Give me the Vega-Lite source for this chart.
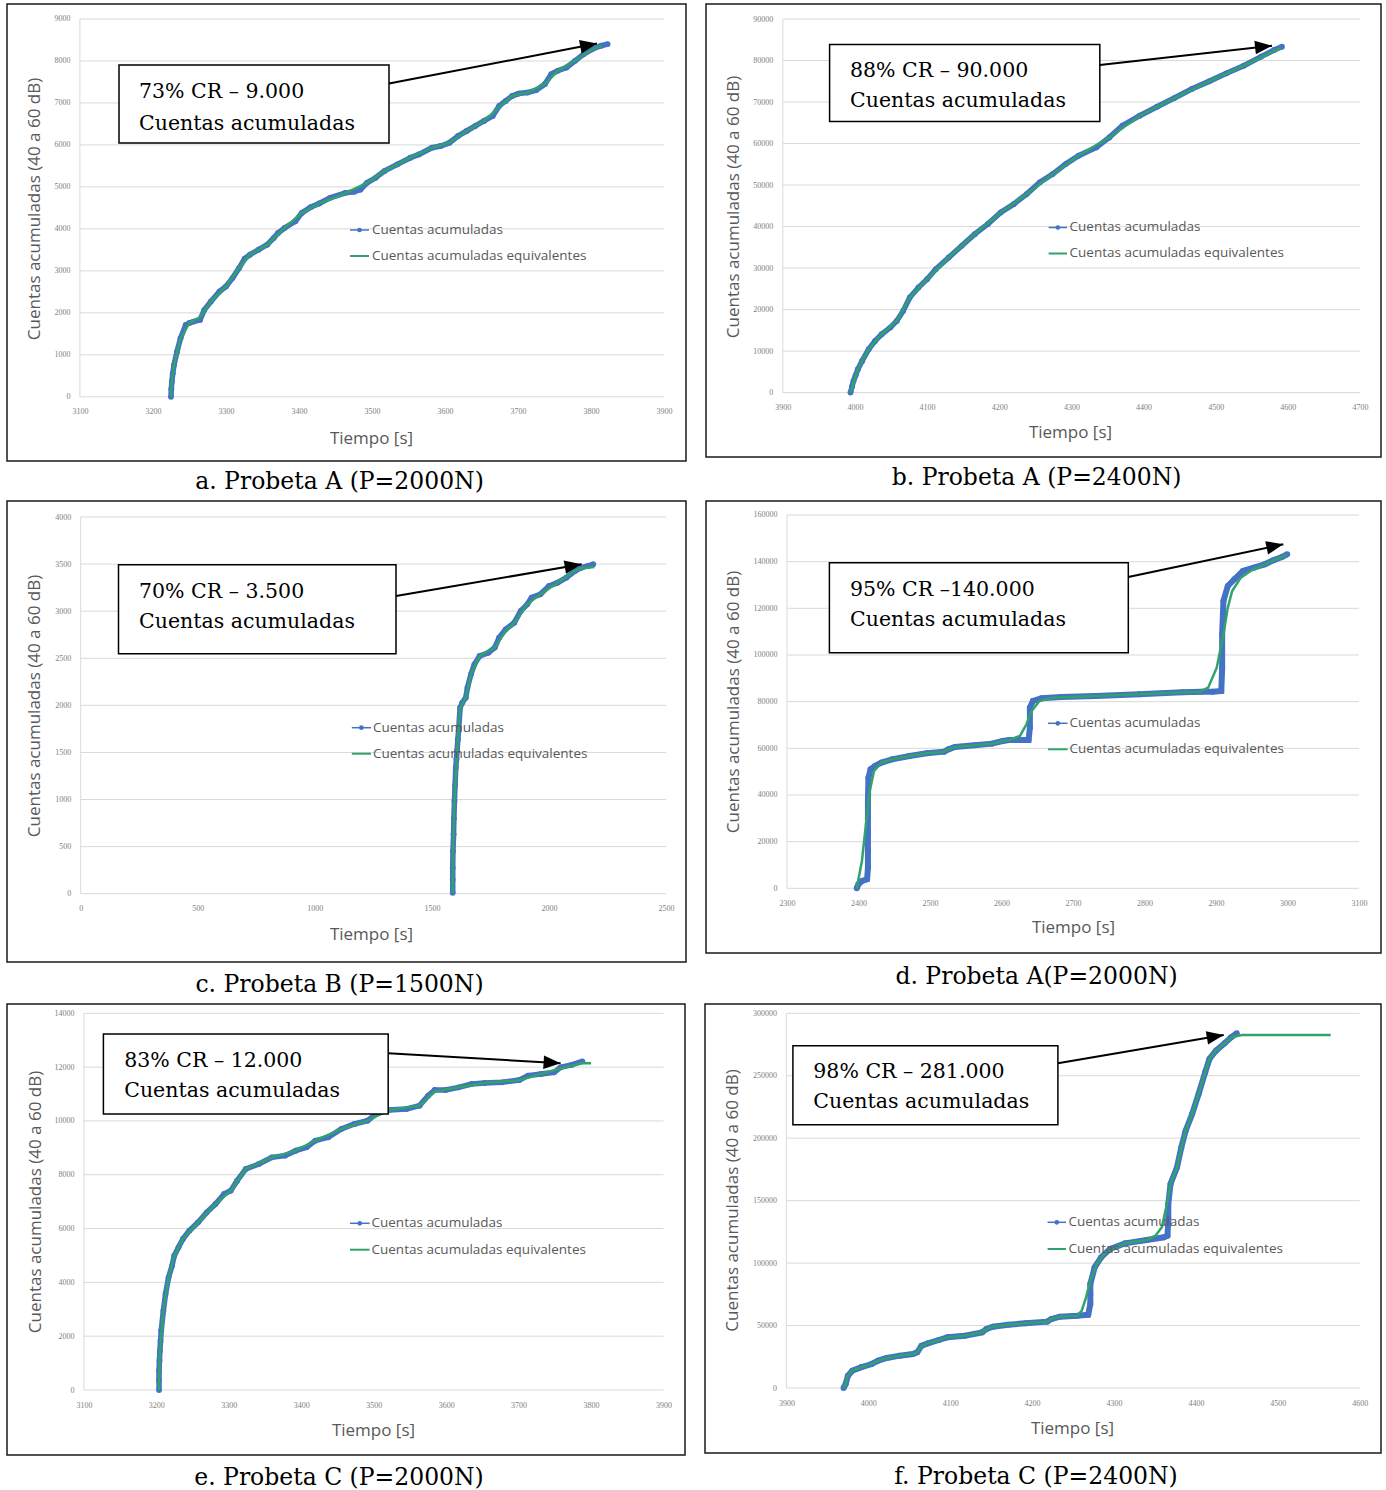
{
"$schema":"https://vega.github.io/schema/vega-lite/v6.json",
"background":"white",
"padding":{"left":6,"top":3,"right":0,"bottom":0},
"config":{
 "view":{"stroke":"#1a1a1a","strokeWidth":1.5},
 "axis":{"labelFont":"Liberation Serif","labelFontSize":8,"labelColor":"#808080","titleFont":"Open Sans","titleFontSize":17,"titleFontWeight":"normal","titleColor":"#595959","domain":false,"ticks":false,"tickSize":0,"grid":false,"labelFlush":false,"labelOverlap":false},
 "title":{"font":"DejaVu Serif","fontSize":23.5,"fontWeight":"normal","color":"black","orient":"bottom","anchor":"middle","offset":9,"dx":-7}
},
"datasets":{
 "a_grid":[{"x1":3100,"x2":3900,"y":0,"y2":0},{"x1":3100,"x2":3900,"y":1000,"y2":1000},{"x1":3100,"x2":3900,"y":2000,"y2":2000},{"x1":3100,"x2":3900,"y":3000,"y2":3000},{"x1":3100,"x2":3900,"y":4000,"y2":4000},{"x1":3100,"x2":3900,"y":5000,"y2":5000},{"x1":3100,"x2":3900,"y":6000,"y2":6000},{"x1":3100,"x2":3900,"y":7000,"y2":7000},{"x1":3100,"x2":3900,"y":8000,"y2":8000},{"x1":3100,"x2":3900,"y":9000,"y2":9000},{"x1":3100,"x2":3100,"y":0,"y2":9000}],
 "a_b":[{"t":3224.7,"c":0},{"t":3225.2,"c":180},{"t":3225.9,"c":358},{"t":3227.2,"c":560},{"t":3228.9,"c":757},{"t":3233,"c":1075},{"t":3237.8,"c":1394},{"t":3244.9,"c":1712},{"t":3250,"c":1760},{"t":3255.6,"c":1792},{"t":3264.5,"c":1832},{"t":3270.4,"c":2071},{"t":3279.4,"c":2270},{"t":3291.2,"c":2509},{"t":3300,"c":2628},{"t":3309,"c":2828},{"t":3318,"c":3066},{"t":3325.7,"c":3290},{"t":3332.8,"c":3385},{"t":3344.7,"c":3505},{"t":3356.6,"c":3624},{"t":3365.5,"c":3783},{"t":3371.4,"c":3903},{"t":3380.3,"c":4022},{"t":3395.2,"c":4182},{"t":3404,"c":4381},{"t":3416,"c":4516},{"t":3427.8,"c":4604},{"t":3442.7,"c":4739},{"t":3463.5,"c":4859},{"t":3475.3,"c":4882},{"t":3484.3,"c":4938},{"t":3493.2,"c":5098},{"t":3505,"c":5217},{"t":3516.9,"c":5376},{"t":3534.7,"c":5536},{"t":3552.6,"c":5695},{"t":3564.4,"c":5775},{"t":3582.2,"c":5934},{"t":3594.1,"c":5974},{"t":3606,"c":6053},{"t":3617.9,"c":6213},{"t":3629.7,"c":6332},{"t":3641.6,"c":6452},{"t":3653.5,"c":6571},{"t":3665.4,"c":6690},{"t":3674.3,"c":6930},{"t":3683.2,"c":7049},{"t":3692.1,"c":7168},{"t":3701,"c":7224},{"t":3712.9,"c":7248},{"t":3724.8,"c":7304},{"t":3736.7,"c":7447},{"t":3745.6,"c":7686},{"t":3754.5,"c":7766},{"t":3766.4,"c":7845},{"t":3778.2,"c":8004},{"t":3790.1,"c":8164},{"t":3802,"c":8284},{"t":3813.9,"c":8363},{"t":3822.8,"c":8403}],
 "a_g":[{"t":3224.7,"c":0},{"t":3226,"c":400},{"t":3229,"c":760},{"t":3237.8,"c":1394},{"t":3250,"c":1760},{"t":3264.5,"c":1900},{"t":3279.4,"c":2270},{"t":3300,"c":2628},{"t":3318,"c":3066},{"t":3332.8,"c":3385},{"t":3356.6,"c":3624},{"t":3380.3,"c":4022},{"t":3404,"c":4381},{"t":3427.8,"c":4604},{"t":3463.5,"c":4850},{"t":3493.2,"c":5098},{"t":3516.9,"c":5376},{"t":3552.6,"c":5695},{"t":3582.2,"c":5934},{"t":3606,"c":6053},{"t":3629.7,"c":6332},{"t":3653.5,"c":6571},{"t":3674.3,"c":6900},{"t":3692.1,"c":7168},{"t":3712.9,"c":7248},{"t":3736.7,"c":7447},{"t":3754.5,"c":7766},{"t":3778.2,"c":8004},{"t":3802,"c":8284},{"t":3815,"c":8360}],
 "a_ann":[{"bx1":3153.55,"bx2":3523.35,"by1":7904.2,"by2":6046,"tx":3180.94,"ty1":7118,"ty2":6367.6,"l1":"73% CR – 9.000","l2":"Cuentas acumuladas","ax1":3523.35,"ay1":7461.1,"ax2":3808.23,"ay2":8416.3,"lx1":3469.93,"lx2":3495.95,"ld":3482.94,"ltx":3500.06,"ly1":3973.5,"ly2":3354.1,"lt1":"Cuentas acumuladas","lt2":"Cuentas acumuladas equivalentes"}],

 "b_grid":[{"x1":3900,"x2":4700,"y":0,"y2":0},{"x1":3900,"x2":4700,"y":10000,"y2":10000},{"x1":3900,"x2":4700,"y":20000,"y2":20000},{"x1":3900,"x2":4700,"y":30000,"y2":30000},{"x1":3900,"x2":4700,"y":40000,"y2":40000},{"x1":3900,"x2":4700,"y":50000,"y2":50000},{"x1":3900,"x2":4700,"y":60000,"y2":60000},{"x1":3900,"x2":4700,"y":70000,"y2":70000},{"x1":3900,"x2":4700,"y":80000,"y2":80000},{"x1":3900,"x2":4700,"y":90000,"y2":90000},{"x1":3900,"x2":3900,"y":0,"y2":90000}],
 "b_b":[{"t":3993.8,"c":0},{"t":3996,"c":1500},{"t":3998,"c":2813},{"t":4001,"c":4200},{"t":4004,"c":5625},{"t":4010,"c":7634},{"t":4019,"c":10447},{"t":4028,"c":12456},{"t":4037,"c":14063},{"t":4049,"c":15670},{"t":4058,"c":17277},{"t":4066.8,"c":19688},{"t":4076,"c":22902},{"t":4088,"c":25313},{"t":4100,"c":27322},{"t":4112,"c":29733},{"t":4130,"c":32546},{"t":4148,"c":35358},{"t":4166,"c":38171},{"t":4184,"c":40582},{"t":4202,"c":43394},{"t":4220,"c":45403},{"t":4238,"c":47814},{"t":4256,"c":50627},{"t":4274,"c":52636},{"t":4292,"c":55047},{"t":4310,"c":57056},{"t":4334.5,"c":59065},{"t":4352.6,"c":61476},{"t":4370.6,"c":64288},{"t":4394.6,"c":66699},{"t":4418.7,"c":68869},{"t":4442.7,"c":70958},{"t":4466.8,"c":73128},{"t":4490.8,"c":74976},{"t":4514.9,"c":76905},{"t":4538.9,"c":78753},{"t":4562.9,"c":80923},{"t":4581,"c":82530},{"t":4591.8,"c":83334}],
 "b_g":[{"t":3993.8,"c":0},{"t":4004,"c":5625},{"t":4019,"c":10447},{"t":4037,"c":14063},{"t":4058,"c":17277},{"t":4076,"c":22902},{"t":4100,"c":27322},{"t":4130,"c":32546},{"t":4166,"c":38171},{"t":4202,"c":43394},{"t":4238,"c":47814},{"t":4274,"c":52636},{"t":4310,"c":57056},{"t":4352.6,"c":61476},{"t":4394.6,"c":66699},{"t":4442.7,"c":70958},{"t":4490.8,"c":74976},{"t":4538.9,"c":78753},{"t":4581,"c":82300},{"t":4590,"c":83000}],
 "b_ann":[{"bx1":3964.87,"bx2":4339.37,"by1":83881.2,"by2":65332,"tx":3993.14,"ty1":76100,"ty2":68873,"l1":"88% CR – 90.000","l2":"Cuentas acumuladas","ax1":4339.37,"ay1":78918.7,"ax2":4578.04,"ay2":83568,"lx1":4268.4,"lx2":4293.9,"ld":4281.2,"ltx":4297.4,"ly1":39772.5,"ly2":33509.2,"lt1":"Cuentas acumuladas","lt2":"Cuentas acumuladas equivalentes"}],

 "c_grid":[{"x1":0,"x2":2500,"y":0,"y2":0},{"x1":0,"x2":2500,"y":500,"y2":500},{"x1":0,"x2":2500,"y":1000,"y2":1000},{"x1":0,"x2":2500,"y":1500,"y2":1500},{"x1":0,"x2":2500,"y":2000,"y2":2000},{"x1":0,"x2":2500,"y":2500,"y2":2500},{"x1":0,"x2":2500,"y":3000,"y2":3000},{"x1":0,"x2":2500,"y":3500,"y2":3500},{"x1":0,"x2":2500,"y":4000,"y2":4000},{"x1":0,"x2":0,"y":0,"y2":4000}],
 "c_b":[{"t":1589,"c":10},{"t":1589,"c":150},{"t":1589,"c":276},{"t":1590,"c":450},{"t":1592.7,"c":630},{"t":1594,"c":800},{"t":1596.4,"c":984},{"t":1599,"c":1150},{"t":1602,"c":1338},{"t":1605,"c":1430},{"t":1607.5,"c":1515},{"t":1611,"c":1640},{"t":1614.9,"c":1763},{"t":1620.5,"c":1975},{"t":1629.8,"c":2028},{"t":1644.6,"c":2082},{"t":1652,"c":2188},{"t":1666.8,"c":2329},{"t":1681.6,"c":2435},{"t":1703.8,"c":2524},{"t":1740.9,"c":2559},{"t":1768.6,"c":2613},{"t":1787.1,"c":2719},{"t":1814.9,"c":2807},{"t":1852,"c":2878},{"t":1879.6,"c":3002},{"t":1907.4,"c":3073},{"t":1925.9,"c":3144},{"t":1963,"c":3179},{"t":2000,"c":3267},{"t":2037,"c":3303},{"t":2074,"c":3356},{"t":2111,"c":3427},{"t":2139,"c":3462},{"t":2166.8,"c":3480},{"t":2189,"c":3498}],
 "c_g":[{"t":1589,"c":10},{"t":1590,"c":450},{"t":1596.4,"c":984},{"t":1607.5,"c":1515},{"t":1620.5,"c":1975},{"t":1644.6,"c":2082},{"t":1666.8,"c":2329},{"t":1703.8,"c":2524},{"t":1768.6,"c":2613},{"t":1814.9,"c":2790},{"t":1852,"c":2878},{"t":1907.4,"c":3073},{"t":1963,"c":3179},{"t":2037,"c":3303},{"t":2111,"c":3427},{"t":2139,"c":3455},{"t":2194,"c":3469}],
 "c_ann":[{"bx1":161.45,"bx2":1346.74,"by1":3493.5,"by2":2548.5,"tx":249.0,"ty1":3143.1,"ty2":2824.5,"l1":"70% CR – 3.500","l2":"Cuentas acumuladas","ax1":1346.74,"ay1":3161.1,"ax2":2139.5,"ay2":3497.7,"lx1":1157.95,"lx2":1239.96,"ld":1198.95,"ltx":1248.5,"ly1":1762.7,"ly2":1486.6,"lt1":"Cuentas acumuladas","lt2":"Cuentas acumuladas equivalentes"}],

 "d_grid":[{"x1":2300,"x2":3100,"y":0,"y2":0},{"x1":2300,"x2":3100,"y":20000,"y2":20000},{"x1":2300,"x2":3100,"y":40000,"y2":40000},{"x1":2300,"x2":3100,"y":60000,"y2":60000},{"x1":2300,"x2":3100,"y":80000,"y2":80000},{"x1":2300,"x2":3100,"y":100000,"y2":100000},{"x1":2300,"x2":3100,"y":120000,"y2":120000},{"x1":2300,"x2":3100,"y":140000,"y2":140000},{"x1":2300,"x2":3100,"y":160000,"y2":160000},{"x1":2300,"x2":2300,"y":0,"y2":160000}],
 "d_b":[{"t":2397.5,"c":0},{"t":2399.9,"c":1714},{"t":2404.8,"c":3143},{"t":2412,"c":3857},{"t":2413.2,"c":8857},{"t":2413.2,"c":16000},{"t":2413.2,"c":23143},{"t":2413.2,"c":30000},{"t":2413.2,"c":37429},{"t":2413.9,"c":47429},{"t":2416.9,"c":51000},{"t":2423,"c":52429},{"t":2432,"c":53857},{"t":2447,"c":55286},{"t":2471.4,"c":56714},{"t":2495.6,"c":57857},{"t":2519.8,"c":58571},{"t":2525.9,"c":59571},{"t":2535,"c":60571},{"t":2562.2,"c":61286},{"t":2586.5,"c":62000},{"t":2601.6,"c":63143},{"t":2610.7,"c":63571},{"t":2637.9,"c":63571},{"t":2639.7,"c":68857},{"t":2639.7,"c":77429},{"t":2644,"c":80286},{"t":2656,"c":81429},{"t":2683.3,"c":82000},{"t":2731.8,"c":82429},{"t":2792.4,"c":83143},{"t":2852.9,"c":84000},{"t":2880,"c":84286},{"t":2895.3,"c":84286},{"t":2907.4,"c":84571},{"t":2908.6,"c":94571},{"t":2908.6,"c":108857},{"t":2910.4,"c":123143},{"t":2916.5,"c":129571},{"t":2925.6,"c":132429},{"t":2937.7,"c":136000},{"t":2952.8,"c":137429},{"t":2968,"c":138857},{"t":2980,"c":140571},{"t":2992.2,"c":142000},{"t":2999.5,"c":143143}],
 "d_g":[{"t":2397.5,"c":0},{"t":2404.8,"c":11714},{"t":2410.9,"c":28857},{"t":2415.7,"c":41714},{"t":2421.7,"c":50286},{"t":2432,"c":53857},{"t":2447,"c":55286},{"t":2471.4,"c":56714},{"t":2495.6,"c":57857},{"t":2519.8,"c":58571},{"t":2525.9,"c":59571},{"t":2535,"c":60571},{"t":2562.2,"c":61286},{"t":2586.5,"c":62000},{"t":2601.6,"c":63143},{"t":2610.7,"c":63571},{"t":2625.8,"c":65286},{"t":2634.9,"c":70286},{"t":2642.2,"c":76000},{"t":2653.1,"c":80286},{"t":2671.2,"c":81714},{"t":2731.8,"c":82429},{"t":2792.4,"c":83143},{"t":2852.9,"c":84000},{"t":2877,"c":84286},{"t":2889,"c":86000},{"t":2901,"c":94571},{"t":2910.4,"c":108857},{"t":2916.5,"c":120286},{"t":2922.6,"c":127429},{"t":2934.7,"c":133143},{"t":2949.8,"c":136286},{"t":2968,"c":138857},{"t":2980,"c":140571},{"t":2992.2,"c":142000},{"t":2999.5,"c":143143}],
 "d_ann":[{"bx1":2359.3,"bx2":2777.34,"by1":139555.3,"by2":100980.4,"tx":2388.11,"ty1":125282.5,"ty2":112424.2,"l1":"95% CR –140.000","l2":"Cuentas acumuladas","ax1":2777.34,"ay1":133426.1,"ax2":2994.12,"ay2":147441.7,"lx1":2665.03,"lx2":2692.44,"ld":2678.74,"ltx":2695.1,"ly1":70720.5,"ly2":59576.6,"lt1":"Cuentas acumuladas","lt2":"Cuentas acumuladas equivalentes"}],

 "e_grid":[{"x1":3100,"x2":3900,"y":0,"y2":0},{"x1":3100,"x2":3900,"y":2000,"y2":2000},{"x1":3100,"x2":3900,"y":4000,"y2":4000},{"x1":3100,"x2":3900,"y":6000,"y2":6000},{"x1":3100,"x2":3900,"y":8000,"y2":8000},{"x1":3100,"x2":3900,"y":10000,"y2":10000},{"x1":3100,"x2":3900,"y":12000,"y2":12000},{"x1":3100,"x2":3900,"y":14000,"y2":14000},{"x1":3100,"x2":3100,"y":0,"y2":14000}],
 "e_b":[{"t":3203.7,"c":0},{"t":3203.7,"c":360},{"t":3203.7,"c":719},{"t":3204.3,"c":1100},{"t":3204.9,"c":1462},{"t":3205.8,"c":1830},{"t":3206.7,"c":2205},{"t":3209.7,"c":2949},{"t":3212.7,"c":3568},{"t":3216.9,"c":4188},{"t":3221.7,"c":4621},{"t":3224.7,"c":4993},{"t":3230.6,"c":5303},{"t":3236.6,"c":5612},{"t":3245.6,"c":5922},{"t":3257.6,"c":6232},{"t":3269.6,"c":6603},{"t":3281.6,"c":6913},{"t":3293.6,"c":7285},{"t":3302.6,"c":7409},{"t":3311.6,"c":7780},{"t":3323.5,"c":8214},{"t":3341.5,"c":8400},{"t":3359.5,"c":8648},{"t":3377.5,"c":8710},{"t":3392.5,"c":8896},{"t":3407.4,"c":9019},{"t":3419.4,"c":9267},{"t":3437.4,"c":9391},{"t":3455.4,"c":9700},{"t":3473.4,"c":9886},{"t":3491.4,"c":10010},{"t":3503.3,"c":10258},{"t":3521.3,"c":10407},{"t":3545.3,"c":10444},{"t":3563.3,"c":10568},{"t":3575.2,"c":10940},{"t":3584.2,"c":11150},{"t":3599.2,"c":11150},{"t":3617.2,"c":11249},{"t":3635.2,"c":11373},{"t":3653.2,"c":11410},{"t":3677.1,"c":11435},{"t":3701.1,"c":11522},{"t":3713.1,"c":11683},{"t":3731.1,"c":11745},{"t":3749,"c":11807},{"t":3758,"c":11993},{"t":3773,"c":12080},{"t":3788,"c":12216}],
 "e_g":[{"t":3203.7,"c":0},{"t":3204.9,"c":1462},{"t":3209.7,"c":2949},{"t":3216.9,"c":4188},{"t":3224.7,"c":4993},{"t":3236.6,"c":5612},{"t":3257.6,"c":6232},{"t":3281.6,"c":6913},{"t":3302.6,"c":7409},{"t":3323.5,"c":8214},{"t":3359.5,"c":8648},{"t":3392.5,"c":8896},{"t":3419.4,"c":9267},{"t":3455.4,"c":9700},{"t":3491.4,"c":10010},{"t":3521.3,"c":10407},{"t":3563.3,"c":10568},{"t":3584.2,"c":11100},{"t":3617.2,"c":11249},{"t":3653.2,"c":11410},{"t":3701.1,"c":11522},{"t":3731.1,"c":11745},{"t":3758,"c":11950},{"t":3788,"c":12150},{"t":3800,"c":12141}],
 "e_ann":[{"bx1":3126.92,"bx2":3520.02,"by1":13230.7,"by2":10257.5,"tx":3155.63,"ty1":11993.1,"ty2":10900.4,"l1":"83% CR – 12.000","l2":"Cuentas acumuladas","ax1":3520.02,"ay1":12513.4,"ax2":3757.97,"ay2":12141.7,"lx1":3467.29,"lx2":3494.34,"ld":3480.8,"ltx":3496.96,"ly1":6195.4,"ly2":5214.2,"lt1":"Cuentas acumuladas","lt2":"Cuentas acumuladas equivalentes"}],

 "f_grid":[{"x1":3900,"x2":4600,"y":0,"y2":0},{"x1":3900,"x2":4600,"y":50000,"y2":50000},{"x1":3900,"x2":4600,"y":100000,"y2":100000},{"x1":3900,"x2":4600,"y":150000,"y2":150000},{"x1":3900,"x2":4600,"y":200000,"y2":200000},{"x1":3900,"x2":4600,"y":250000,"y2":250000},{"x1":3900,"x2":4600,"y":300000,"y2":300000},{"x1":3900,"x2":3900,"y":0,"y2":300000}],
 "f_b":[{"t":3969.8,"c":0},{"t":3972.4,"c":3203},{"t":3975.1,"c":9875},{"t":3980.4,"c":13879},{"t":3990.9,"c":16548},{"t":4004.2,"c":19217},{"t":4012.1,"c":21886},{"t":4022.7,"c":24021},{"t":4038.5,"c":25889},{"t":4054.4,"c":27224},{"t":4059.7,"c":28558},{"t":4065,"c":33896},{"t":4072.9,"c":35765},{"t":4086.1,"c":38434},{"t":4096.7,"c":40569},{"t":4117.8,"c":41903},{"t":4139,"c":44573},{"t":4144.3,"c":47242},{"t":4152.2,"c":49110},{"t":4170.7,"c":50712},{"t":4191.8,"c":51779},{"t":4218.3,"c":53114},{"t":4223.6,"c":55249},{"t":4234.1,"c":57117},{"t":4255.3,"c":57918},{"t":4268.5,"c":58719},{"t":4271.1,"c":67259},{"t":4271.1,"c":75000},{"t":4271.1,"c":83273},{"t":4276.4,"c":96618},{"t":4284.3,"c":104625},{"t":4294.9,"c":111300},{"t":4313.4,"c":115835},{"t":4339.9,"c":118504},{"t":4361,"c":120639},{"t":4365.3,"c":121973},{"t":4366.3,"c":135000},{"t":4366.3,"c":147330},{"t":4369,"c":163344},{"t":4376.9,"c":176690},{"t":4382.2,"c":192703},{"t":4387.5,"c":206048},{"t":4395.4,"c":219393},{"t":4403.3,"c":235407},{"t":4411.3,"c":252756},{"t":4416.5,"c":263432},{"t":4424.5,"c":270104},{"t":4435.1,"c":275976},{"t":4443,"c":280780},{"t":4449.9,"c":283983}],
 "f_g":[{"t":3969.8,"c":0},{"t":3972.4,"c":3203},{"t":3975.1,"c":9875},{"t":3980.4,"c":13879},{"t":3990.9,"c":16548},{"t":4004.2,"c":19217},{"t":4012.1,"c":21886},{"t":4022.7,"c":24021},{"t":4038.5,"c":25889},{"t":4054.4,"c":27224},{"t":4059.7,"c":28558},{"t":4065,"c":33896},{"t":4072.9,"c":35765},{"t":4086.1,"c":38434},{"t":4096.7,"c":40569},{"t":4117.8,"c":41903},{"t":4139,"c":44573},{"t":4144.3,"c":47242},{"t":4152.2,"c":49110},{"t":4170.7,"c":50712},{"t":4191.8,"c":51779},{"t":4218.3,"c":53114},{"t":4223.6,"c":55249},{"t":4234.1,"c":57117},{"t":4255.3,"c":57918},{"t":4260.6,"c":61920},{"t":4265.9,"c":72600},{"t":4271.1,"c":85940},{"t":4279,"c":99290},{"t":4289.7,"c":108630},{"t":4313.4,"c":115835},{"t":4339.9,"c":118504},{"t":4350.5,"c":121970},{"t":4358.4,"c":128650},{"t":4363.7,"c":144660},{"t":4369,"c":163344},{"t":4376.9,"c":176690},{"t":4382.2,"c":192703},{"t":4387.5,"c":206048},{"t":4395.4,"c":219393},{"t":4403.3,"c":235407},{"t":4411.3,"c":252756},{"t":4416.5,"c":263432},{"t":4424.5,"c":270104},{"t":4435.1,"c":275976},{"t":4445.6,"c":281300},{"t":4456.2,"c":282640},{"t":4466.8,"c":282640},{"t":4564.6,"c":282640}],
 "f_ann":[{"bx1":3907.94,"bx2":4231.5,"by1":274059.3,"by2":210808.8,"tx":3932.85,"ty1":248198.6,"ty2":224179.4,"l1":"98% CR – 281.000","l2":"Cuentas acumuladas","ax1":4231.5,"ay1":259968,"ax2":4433.94,"ay2":282626.2,"lx1":4218.9,"lx2":4241.39,"ld":4230.15,"ltx":4244.45,"ly1":132666.3,"ly2":111289.2,"lt1":"Cuentas acumuladas","lt2":"Cuentas acumuladas equivalentes"}]
},
"spacing":5,
"vconcat":[
 {"spacing":18,"hconcat":[
  {"width":679,"height":457,"title":{"text":"a. Probeta A (P=2000N)"},
   "layer":[
    {"data":{"name":"a_grid"},"mark":{"type":"rule","color":"#d9d9d9","strokeWidth":1},
     "encoding":{"x":{"field":"x1","type":"quantitative","scale":{"domain":[3000.15,3930.13],"nice":false,"zero":false},"axis":{"values":[3100,3200,3300,3400,3500,3600,3700,3800,3900],"format":"d","offset":-64.2,"labelPadding":11,"title":"Tiempo [s]","titleX":364,"titleY":41.2,"titleBaseline":"middle","titleAlign":"center"}},
      "x2":{"field":"x2"},
      "y":{"field":"y","type":"quantitative","scale":{"domain":[-1529.4,9357.3],"nice":false,"zero":false},"axis":{"values":[0,1000,2000,3000,4000,5000,6000,7000,8000,9000],"format":"d","offset":-72.9,"labelPadding":10,"title":"Cuentas acumuladas (40 a 60 dB)","titleX":-45.9,"titleY":204.5,"titleAngle":-90,"titleBaseline":"middle","titleAlign":"center"}},
      "y2":{"field":"y2"}}},
    {"data":{"name":"a_b"},"mark":{"type":"line","color":"#4472C4","strokeWidth":5.5,"point":{"filled":true,"size":34,"color":"#4472C4"}},"encoding":{"x":{"field":"t","type":"quantitative"},"y":{"field":"c","type":"quantitative"},"order":{"value":null}}},
    {"data":{"name":"a_g"},"mark":{"type":"line","color":"#2FA36B","strokeWidth":2.5},"encoding":{"x":{"field":"t","type":"quantitative"},"y":{"field":"c","type":"quantitative"},"order":{"value":null}}},
    {"data":{"name":"a_ann"},"mark":{"type":"rect","fill":"white","stroke":"black","strokeWidth":1.5},"encoding":{"x":{"field":"bx1","type":"quantitative"},"x2":{"field":"bx2"},"y":{"field":"by1","type":"quantitative"},"y2":{"field":"by2"}}},
    {"data":{"name":"a_ann"},"mark":{"type":"text","align":"left","baseline":"alphabetic","font":"DejaVu Serif","fontSize":20.5,"color":"black"},"encoding":{"x":{"field":"tx","type":"quantitative"},"y":{"field":"ty1","type":"quantitative"},"text":{"field":"l1"}}},
    {"data":{"name":"a_ann"},"mark":{"type":"text","align":"left","baseline":"alphabetic","font":"DejaVu Serif","fontSize":20.5,"color":"black"},"encoding":{"x":{"field":"tx","type":"quantitative"},"y":{"field":"ty2","type":"quantitative"},"text":{"field":"l2"}}},
    {"data":{"name":"a_ann"},"mark":{"type":"rule","color":"black","strokeWidth":2},"encoding":{"x":{"field":"ax1","type":"quantitative"},"y":{"field":"ay1","type":"quantitative"},"x2":{"field":"ax2"},"y2":{"field":"ay2"}}},
    {"data":{"name":"a_ann"},"mark":{"type":"point","shape":"M0,0L-2,-0.8L-2,0.8Z","filled":true,"size":289,"color":"black","opacity":1,"angle":349},"encoding":{"x":{"field":"ax2","type":"quantitative"},"y":{"field":"ay2","type":"quantitative"}}},
    {"data":{"name":"a_ann"},"mark":{"type":"rule","color":"#4472C4","strokeWidth":1.5},"encoding":{"x":{"field":"lx1","type":"quantitative"},"x2":{"field":"lx2"},"y":{"field":"ly1","type":"quantitative"}}},
    {"data":{"name":"a_ann"},"mark":{"type":"point","filled":true,"size":22,"color":"#4472C4","opacity":1},"encoding":{"x":{"field":"ld","type":"quantitative"},"y":{"field":"ly1","type":"quantitative"}}},
    {"data":{"name":"a_ann"},"mark":{"type":"rule","color":"#2FA36B","strokeWidth":2},"encoding":{"x":{"field":"lx1","type":"quantitative"},"x2":{"field":"lx2"},"y":{"field":"ly2","type":"quantitative"}}},
    {"data":{"name":"a_ann"},"mark":{"type":"text","align":"left","baseline":"middle","font":"Open Sans","fontSize":13.5,"color":"#595959"},"encoding":{"x":{"field":"ltx","type":"quantitative"},"y":{"field":"ly1","type":"quantitative"},"text":{"field":"lt1"}}},
    {"data":{"name":"a_ann"},"mark":{"type":"text","align":"left","baseline":"middle","font":"Open Sans","fontSize":13.5,"color":"#595959"},"encoding":{"x":{"field":"ltx","type":"quantitative"},"y":{"field":"ly2","type":"quantitative"},"text":{"field":"lt2"}}}
   ]},
  {"width":675,"height":453,"title":{"text":"b. Probeta A (P=2400N)"},
   "layer":[
    {"data":{"name":"b_grid"},"mark":{"type":"rule","color":"#d9d9d9","strokeWidth":1},
     "encoding":{"x":{"field":"x1","type":"quantitative","scale":{"domain":[3793.56,4729.1],"nice":false,"zero":false},"axis":{"values":[3900,4000,4100,4200,4300,4400,4500,4600,4700],"format":"d","offset":-64.4,"labelPadding":11,"title":"Tiempo [s]","titleX":364,"titleY":40.1,"titleBaseline":"middle","titleAlign":"center"}},
      "x2":{"field":"x2"},
      "y":{"field":"y","type":"quantitative","scale":{"domain":[-15513.9,93613.5],"nice":false,"zero":false},"axis":{"values":[0,10000,20000,30000,40000,50000,60000,70000,80000,90000],"format":"d","offset":-76.8,"labelPadding":10,"title":"Cuentas acumuladas (40 a 60 dB)","titleX":-49.8,"titleY":202.5,"titleAngle":-90,"titleBaseline":"middle","titleAlign":"center"}},
      "y2":{"field":"y2"}}},
    {"data":{"name":"b_b"},"mark":{"type":"line","color":"#4472C4","strokeWidth":5.5,"point":{"filled":true,"size":34,"color":"#4472C4"}},"encoding":{"x":{"field":"t","type":"quantitative"},"y":{"field":"c","type":"quantitative"},"order":{"value":null}}},
    {"data":{"name":"b_g"},"mark":{"type":"line","color":"#2FA36B","strokeWidth":2.5},"encoding":{"x":{"field":"t","type":"quantitative"},"y":{"field":"c","type":"quantitative"},"order":{"value":null}}},
    {"data":{"name":"b_ann"},"mark":{"type":"rect","fill":"white","stroke":"black","strokeWidth":1.5},"encoding":{"x":{"field":"bx1","type":"quantitative"},"x2":{"field":"bx2"},"y":{"field":"by1","type":"quantitative"},"y2":{"field":"by2"}}},
    {"data":{"name":"b_ann"},"mark":{"type":"text","align":"left","baseline":"alphabetic","font":"DejaVu Serif","fontSize":20.5,"color":"black"},"encoding":{"x":{"field":"tx","type":"quantitative"},"y":{"field":"ty1","type":"quantitative"},"text":{"field":"l1"}}},
    {"data":{"name":"b_ann"},"mark":{"type":"text","align":"left","baseline":"alphabetic","font":"DejaVu Serif","fontSize":20.5,"color":"black"},"encoding":{"x":{"field":"tx","type":"quantitative"},"y":{"field":"ty2","type":"quantitative"},"text":{"field":"l2"}}},
    {"data":{"name":"b_ann"},"mark":{"type":"rule","color":"black","strokeWidth":2},"encoding":{"x":{"field":"ax1","type":"quantitative"},"y":{"field":"ay1","type":"quantitative"},"x2":{"field":"ax2"},"y2":{"field":"ay2"}}},
    {"data":{"name":"b_ann"},"mark":{"type":"point","shape":"M0,0L-2,-0.8L-2,0.8Z","filled":true,"size":289,"color":"black","opacity":1,"angle":353.6},"encoding":{"x":{"field":"ax2","type":"quantitative"},"y":{"field":"ay2","type":"quantitative"}}},
    {"data":{"name":"b_ann"},"mark":{"type":"rule","color":"#4472C4","strokeWidth":1.5},"encoding":{"x":{"field":"lx1","type":"quantitative"},"x2":{"field":"lx2"},"y":{"field":"ly1","type":"quantitative"}}},
    {"data":{"name":"b_ann"},"mark":{"type":"point","filled":true,"size":22,"color":"#4472C4","opacity":1},"encoding":{"x":{"field":"ld","type":"quantitative"},"y":{"field":"ly1","type":"quantitative"}}},
    {"data":{"name":"b_ann"},"mark":{"type":"rule","color":"#2FA36B","strokeWidth":2},"encoding":{"x":{"field":"lx1","type":"quantitative"},"x2":{"field":"lx2"},"y":{"field":"ly2","type":"quantitative"}}},
    {"data":{"name":"b_ann"},"mark":{"type":"text","align":"left","baseline":"middle","font":"Open Sans","fontSize":13.5,"color":"#595959"},"encoding":{"x":{"field":"ltx","type":"quantitative"},"y":{"field":"ly1","type":"quantitative"},"text":{"field":"lt1"}}},
    {"data":{"name":"b_ann"},"mark":{"type":"text","align":"left","baseline":"middle","font":"Open Sans","fontSize":13.5,"color":"#595959"},"encoding":{"x":{"field":"ltx","type":"quantitative"},"y":{"field":"ly2","type":"quantitative"},"text":{"field":"lt2"}}}
   ]}
 ]},
 {"spacing":18,"hconcat":[
  {"width":679,"height":461,"title":{"text":"c. Probeta B (P=1500N)","dy":2},
   "layer":[
    {"data":{"name":"c_grid"},"mark":{"type":"rule","color":"#d9d9d9","strokeWidth":1},
     "encoding":{"x":{"field":"x1","type":"quantitative","scale":{"domain":[-314.8,2585.4],"nice":false,"zero":false},"axis":{"values":[0,500,1000,1500,2000,2500],"format":"d","offset":-68.3,"labelPadding":11,"title":"Tiempo [s]","titleX":364,"titleY":40.3,"titleBaseline":"middle","titleAlign":"center"}},
      "x2":{"field":"x2"},
      "y":{"field":"y","type":"quantitative","scale":{"domain":[-725.2,4169.9],"nice":false,"zero":false},"axis":{"values":[0,500,1000,1500,2000,2500,3000,3500,4000],"format":"d","offset":-73.7,"labelPadding":10,"title":"Cuentas acumuladas (40 a 60 dB)","titleX":-45.7,"titleY":204.5,"titleAngle":-90,"titleBaseline":"middle","titleAlign":"center"}},
      "y2":{"field":"y2"}}},
    {"data":{"name":"c_b"},"mark":{"type":"line","color":"#4472C4","strokeWidth":5.5,"point":{"filled":true,"size":34,"color":"#4472C4"}},"encoding":{"x":{"field":"t","type":"quantitative"},"y":{"field":"c","type":"quantitative"},"order":{"value":null}}},
    {"data":{"name":"c_g"},"mark":{"type":"line","color":"#2FA36B","strokeWidth":2.5},"encoding":{"x":{"field":"t","type":"quantitative"},"y":{"field":"c","type":"quantitative"},"order":{"value":null}}},
    {"data":{"name":"c_ann"},"mark":{"type":"rect","fill":"white","stroke":"black","strokeWidth":1.5},"encoding":{"x":{"field":"bx1","type":"quantitative"},"x2":{"field":"bx2"},"y":{"field":"by1","type":"quantitative"},"y2":{"field":"by2"}}},
    {"data":{"name":"c_ann"},"mark":{"type":"text","align":"left","baseline":"alphabetic","font":"DejaVu Serif","fontSize":20.5,"color":"black"},"encoding":{"x":{"field":"tx","type":"quantitative"},"y":{"field":"ty1","type":"quantitative"},"text":{"field":"l1"}}},
    {"data":{"name":"c_ann"},"mark":{"type":"text","align":"left","baseline":"alphabetic","font":"DejaVu Serif","fontSize":20.5,"color":"black"},"encoding":{"x":{"field":"tx","type":"quantitative"},"y":{"field":"ty2","type":"quantitative"},"text":{"field":"l2"}}},
    {"data":{"name":"c_ann"},"mark":{"type":"rule","color":"black","strokeWidth":2},"encoding":{"x":{"field":"ax1","type":"quantitative"},"y":{"field":"ay1","type":"quantitative"},"x2":{"field":"ax2"},"y2":{"field":"ay2"}}},
    {"data":{"name":"c_ann"},"mark":{"type":"point","shape":"M0,0L-2,-0.8L-2,0.8Z","filled":true,"size":289,"color":"black","opacity":1,"angle":350.3},"encoding":{"x":{"field":"ax2","type":"quantitative"},"y":{"field":"ay2","type":"quantitative"}}},
    {"data":{"name":"c_ann"},"mark":{"type":"rule","color":"#4472C4","strokeWidth":1.5},"encoding":{"x":{"field":"lx1","type":"quantitative"},"x2":{"field":"lx2"},"y":{"field":"ly1","type":"quantitative"}}},
    {"data":{"name":"c_ann"},"mark":{"type":"point","filled":true,"size":22,"color":"#4472C4","opacity":1},"encoding":{"x":{"field":"ld","type":"quantitative"},"y":{"field":"ly1","type":"quantitative"}}},
    {"data":{"name":"c_ann"},"mark":{"type":"rule","color":"#2FA36B","strokeWidth":2},"encoding":{"x":{"field":"lx1","type":"quantitative"},"x2":{"field":"lx2"},"y":{"field":"ly2","type":"quantitative"}}},
    {"data":{"name":"c_ann"},"mark":{"type":"text","align":"left","baseline":"middle","font":"Open Sans","fontSize":13.5,"color":"#595959"},"encoding":{"x":{"field":"ltx","type":"quantitative"},"y":{"field":"ly1","type":"quantitative"},"text":{"field":"lt1"}}},
    {"data":{"name":"c_ann"},"mark":{"type":"text","align":"left","baseline":"middle","font":"Open Sans","fontSize":13.5,"color":"#595959"},"encoding":{"x":{"field":"ltx","type":"quantitative"},"y":{"field":"ly2","type":"quantitative"},"text":{"field":"lt2"}}}
   ]},
  {"width":675,"height":452,"title":{"text":"d. Probeta A(P=2000N)","dy":3},
   "layer":[
    {"data":{"name":"d_grid"},"mark":{"type":"rule","color":"#d9d9d9","strokeWidth":1},
     "encoding":{"x":{"field":"x1","type":"quantitative","scale":{"domain":[2186.71,3130.77],"nice":false,"zero":false},"axis":{"values":[2300,2400,2500,2600,2700,2800,2900,3000,3100],"format":"d","offset":-64.7,"labelPadding":11,"title":"Tiempo [s]","titleX":367,"titleY":39.4,"titleBaseline":"middle","titleAlign":"center"}},
      "x2":{"field":"x2"},
      "y":{"field":"y","type":"quantitative","scale":{"domain":[-27731,166000.5],"nice":false,"zero":false},"axis":{"values":[0,20000,40000,60000,80000,100000,120000,140000,160000],"format":"d","offset":-81,"labelPadding":10,"title":"Cuentas acumuladas (40 a 60 dB)","titleX":-54,"titleY":200.5,"titleAngle":-90,"titleBaseline":"middle","titleAlign":"center"}},
      "y2":{"field":"y2"}}},
    {"data":{"name":"d_b"},"mark":{"type":"line","color":"#4472C4","strokeWidth":6,"point":{"filled":true,"size":36,"color":"#4472C4"}},"encoding":{"x":{"field":"t","type":"quantitative"},"y":{"field":"c","type":"quantitative"},"order":{"value":null}}},
    {"data":{"name":"d_g"},"mark":{"type":"line","color":"#2FA36B","strokeWidth":2.5},"encoding":{"x":{"field":"t","type":"quantitative"},"y":{"field":"c","type":"quantitative"},"order":{"value":null}}},
    {"data":{"name":"d_ann"},"mark":{"type":"rect","fill":"white","stroke":"black","strokeWidth":1.5},"encoding":{"x":{"field":"bx1","type":"quantitative"},"x2":{"field":"bx2"},"y":{"field":"by1","type":"quantitative"},"y2":{"field":"by2"}}},
    {"data":{"name":"d_ann"},"mark":{"type":"text","align":"left","baseline":"alphabetic","font":"DejaVu Serif","fontSize":20.5,"color":"black"},"encoding":{"x":{"field":"tx","type":"quantitative"},"y":{"field":"ty1","type":"quantitative"},"text":{"field":"l1"}}},
    {"data":{"name":"d_ann"},"mark":{"type":"text","align":"left","baseline":"alphabetic","font":"DejaVu Serif","fontSize":20.5,"color":"black"},"encoding":{"x":{"field":"tx","type":"quantitative"},"y":{"field":"ty2","type":"quantitative"},"text":{"field":"l2"}}},
    {"data":{"name":"d_ann"},"mark":{"type":"rule","color":"black","strokeWidth":2},"encoding":{"x":{"field":"ax1","type":"quantitative"},"y":{"field":"ay1","type":"quantitative"},"x2":{"field":"ax2"},"y2":{"field":"ay2"}}},
    {"data":{"name":"d_ann"},"mark":{"type":"point","shape":"M0,0L-2,-0.8L-2,0.8Z","filled":true,"size":289,"color":"black","opacity":1,"angle":348.1},"encoding":{"x":{"field":"ax2","type":"quantitative"},"y":{"field":"ay2","type":"quantitative"}}},
    {"data":{"name":"d_ann"},"mark":{"type":"rule","color":"#4472C4","strokeWidth":1.5},"encoding":{"x":{"field":"lx1","type":"quantitative"},"x2":{"field":"lx2"},"y":{"field":"ly1","type":"quantitative"}}},
    {"data":{"name":"d_ann"},"mark":{"type":"point","filled":true,"size":22,"color":"#4472C4","opacity":1},"encoding":{"x":{"field":"ld","type":"quantitative"},"y":{"field":"ly1","type":"quantitative"}}},
    {"data":{"name":"d_ann"},"mark":{"type":"rule","color":"#2FA36B","strokeWidth":2},"encoding":{"x":{"field":"lx1","type":"quantitative"},"x2":{"field":"lx2"},"y":{"field":"ly2","type":"quantitative"}}},
    {"data":{"name":"d_ann"},"mark":{"type":"text","align":"left","baseline":"middle","font":"Open Sans","fontSize":13.5,"color":"#595959"},"encoding":{"x":{"field":"ltx","type":"quantitative"},"y":{"field":"ly1","type":"quantitative"},"text":{"field":"lt1"}}},
    {"data":{"name":"d_ann"},"mark":{"type":"text","align":"left","baseline":"middle","font":"Open Sans","fontSize":13.5,"color":"#595959"},"encoding":{"x":{"field":"ltx","type":"quantitative"},"y":{"field":"ly2","type":"quantitative"},"text":{"field":"lt2"}}}
   ]}
 ]},
 {"spacing":18,"hconcat":[
  {"width":678,"height":451,"title":{"text":"e. Probeta C (P=2000N)","dy":2},
   "layer":[
    {"data":{"name":"e_grid"},"mark":{"type":"rule","color":"#d9d9d9","strokeWidth":1},
     "encoding":{"x":{"field":"x1","type":"quantitative","scale":{"domain":[2993.86,3929.68],"nice":false,"zero":false},"axis":{"values":[3100,3200,3300,3400,3500,3600,3700,3800,3900],"format":"d","offset":-65,"labelPadding":11,"title":"Tiempo [s]","titleX":366,"titleY":40,"titleBaseline":"middle","titleAlign":"center"}},
      "x2":{"field":"x2"},
      "y":{"field":"y","type":"quantitative","scale":{"domain":[-2415.7,14345.6],"nice":false,"zero":false},"axis":{"values":[0,2000,4000,6000,8000,10000,12000,14000],"format":"d","offset":-76.9,"labelPadding":10,"title":"Cuentas acumuladas (40 a 60 dB)","titleX":-48.9,"titleY":197.5,"titleAngle":-90,"titleBaseline":"middle","titleAlign":"center"}},
      "y2":{"field":"y2"}}},
    {"data":{"name":"e_b"},"mark":{"type":"line","color":"#4472C4","strokeWidth":5.5,"point":{"filled":true,"size":34,"color":"#4472C4"}},"encoding":{"x":{"field":"t","type":"quantitative"},"y":{"field":"c","type":"quantitative"},"order":{"value":null}}},
    {"data":{"name":"e_g"},"mark":{"type":"line","color":"#2FA36B","strokeWidth":2.5},"encoding":{"x":{"field":"t","type":"quantitative"},"y":{"field":"c","type":"quantitative"},"order":{"value":null}}},
    {"data":{"name":"e_ann"},"mark":{"type":"rect","fill":"white","stroke":"black","strokeWidth":1.5},"encoding":{"x":{"field":"bx1","type":"quantitative"},"x2":{"field":"bx2"},"y":{"field":"by1","type":"quantitative"},"y2":{"field":"by2"}}},
    {"data":{"name":"e_ann"},"mark":{"type":"text","align":"left","baseline":"alphabetic","font":"DejaVu Serif","fontSize":20.5,"color":"black"},"encoding":{"x":{"field":"tx","type":"quantitative"},"y":{"field":"ty1","type":"quantitative"},"text":{"field":"l1"}}},
    {"data":{"name":"e_ann"},"mark":{"type":"text","align":"left","baseline":"alphabetic","font":"DejaVu Serif","fontSize":20.5,"color":"black"},"encoding":{"x":{"field":"tx","type":"quantitative"},"y":{"field":"ty2","type":"quantitative"},"text":{"field":"l2"}}},
    {"data":{"name":"e_ann"},"mark":{"type":"rule","color":"black","strokeWidth":2},"encoding":{"x":{"field":"ax1","type":"quantitative"},"y":{"field":"ay1","type":"quantitative"},"x2":{"field":"ax2"},"y2":{"field":"ay2"}}},
    {"data":{"name":"e_ann"},"mark":{"type":"point","shape":"M0,0L-2,-0.8L-2,0.8Z","filled":true,"size":289,"color":"black","opacity":1,"angle":3.3},"encoding":{"x":{"field":"ax2","type":"quantitative"},"y":{"field":"ay2","type":"quantitative"}}},
    {"data":{"name":"e_ann"},"mark":{"type":"rule","color":"#4472C4","strokeWidth":1.5},"encoding":{"x":{"field":"lx1","type":"quantitative"},"x2":{"field":"lx2"},"y":{"field":"ly1","type":"quantitative"}}},
    {"data":{"name":"e_ann"},"mark":{"type":"point","filled":true,"size":22,"color":"#4472C4","opacity":1},"encoding":{"x":{"field":"ld","type":"quantitative"},"y":{"field":"ly1","type":"quantitative"}}},
    {"data":{"name":"e_ann"},"mark":{"type":"rule","color":"#2FA36B","strokeWidth":2},"encoding":{"x":{"field":"lx1","type":"quantitative"},"x2":{"field":"lx2"},"y":{"field":"ly2","type":"quantitative"}}},
    {"data":{"name":"e_ann"},"mark":{"type":"text","align":"left","baseline":"middle","font":"Open Sans","fontSize":13.5,"color":"#595959"},"encoding":{"x":{"field":"ltx","type":"quantitative"},"y":{"field":"ly1","type":"quantitative"},"text":{"field":"lt1"}}},
    {"data":{"name":"e_ann"},"mark":{"type":"text","align":"left","baseline":"middle","font":"Open Sans","fontSize":13.5,"color":"#595959"},"encoding":{"x":{"field":"ltx","type":"quantitative"},"y":{"field":"ly2","type":"quantitative"},"text":{"field":"lt2"}}}
   ]},
  {"width":676,"height":449,"title":{"text":"f. Probeta C (P=2400N)","dy":3},
   "layer":[
    {"data":{"name":"f_grid"},"mark":{"type":"rule","color":"#d9d9d9","strokeWidth":1},
     "encoding":{"x":{"field":"x1","type":"quantitative","scale":{"domain":[3800.61,4626.0],"nice":false,"zero":false},"axis":{"values":[3900,4000,4100,4200,4300,4400,4500,4600],"format":"d","offset":-65,"labelPadding":11,"title":"Tiempo [s]","titleX":367,"titleY":40.3,"titleBaseline":"middle","titleAlign":"center"}},
      "x2":{"field":"x2"},
      "y":{"field":"y","type":"quantitative","scale":{"domain":[-52041.6,307446],"nice":false,"zero":false},"axis":{"values":[0,50000,100000,150000,200000,250000,300000],"format":"d","offset":-81.4,"labelPadding":10,"title":"Cuentas acumuladas (40 a 60 dB)","titleX":-54.4,"titleY":196,"titleAngle":-90,"titleBaseline":"middle","titleAlign":"center"}},
      "y2":{"field":"y2"}}},
    {"data":{"name":"f_b"},"mark":{"type":"line","color":"#4472C4","strokeWidth":6,"point":{"filled":true,"size":36,"color":"#4472C4"}},"encoding":{"x":{"field":"t","type":"quantitative"},"y":{"field":"c","type":"quantitative"},"order":{"value":null}}},
    {"data":{"name":"f_g"},"mark":{"type":"line","color":"#2FA36B","strokeWidth":2.5},"encoding":{"x":{"field":"t","type":"quantitative"},"y":{"field":"c","type":"quantitative"},"order":{"value":null}}},
    {"data":{"name":"f_ann"},"mark":{"type":"rect","fill":"white","stroke":"black","strokeWidth":1.5},"encoding":{"x":{"field":"bx1","type":"quantitative"},"x2":{"field":"bx2"},"y":{"field":"by1","type":"quantitative"},"y2":{"field":"by2"}}},
    {"data":{"name":"f_ann"},"mark":{"type":"text","align":"left","baseline":"alphabetic","font":"DejaVu Serif","fontSize":20.5,"color":"black"},"encoding":{"x":{"field":"tx","type":"quantitative"},"y":{"field":"ty1","type":"quantitative"},"text":{"field":"l1"}}},
    {"data":{"name":"f_ann"},"mark":{"type":"text","align":"left","baseline":"alphabetic","font":"DejaVu Serif","fontSize":20.5,"color":"black"},"encoding":{"x":{"field":"tx","type":"quantitative"},"y":{"field":"ty2","type":"quantitative"},"text":{"field":"l2"}}},
    {"data":{"name":"f_ann"},"mark":{"type":"rule","color":"black","strokeWidth":2},"encoding":{"x":{"field":"ax1","type":"quantitative"},"y":{"field":"ay1","type":"quantitative"},"x2":{"field":"ax2"},"y2":{"field":"ay2"}}},
    {"data":{"name":"f_ann"},"mark":{"type":"point","shape":"M0,0L-2,-0.8L-2,0.8Z","filled":true,"size":289,"color":"black","opacity":1,"angle":350.3},"encoding":{"x":{"field":"ax2","type":"quantitative"},"y":{"field":"ay2","type":"quantitative"}}},
    {"data":{"name":"f_ann"},"mark":{"type":"rule","color":"#4472C4","strokeWidth":1.5},"encoding":{"x":{"field":"lx1","type":"quantitative"},"x2":{"field":"lx2"},"y":{"field":"ly1","type":"quantitative"}}},
    {"data":{"name":"f_ann"},"mark":{"type":"point","filled":true,"size":22,"color":"#4472C4","opacity":1},"encoding":{"x":{"field":"ld","type":"quantitative"},"y":{"field":"ly1","type":"quantitative"}}},
    {"data":{"name":"f_ann"},"mark":{"type":"rule","color":"#2FA36B","strokeWidth":2},"encoding":{"x":{"field":"lx1","type":"quantitative"},"x2":{"field":"lx2"},"y":{"field":"ly2","type":"quantitative"}}},
    {"data":{"name":"f_ann"},"mark":{"type":"text","align":"left","baseline":"middle","font":"Open Sans","fontSize":13.5,"color":"#595959"},"encoding":{"x":{"field":"ltx","type":"quantitative"},"y":{"field":"ly1","type":"quantitative"},"text":{"field":"lt1"}}},
    {"data":{"name":"f_ann"},"mark":{"type":"text","align":"left","baseline":"middle","font":"Open Sans","fontSize":13.5,"color":"#595959"},"encoding":{"x":{"field":"ltx","type":"quantitative"},"y":{"field":"ly2","type":"quantitative"},"text":{"field":"lt2"}}}
   ]}
 ]}
]
}
